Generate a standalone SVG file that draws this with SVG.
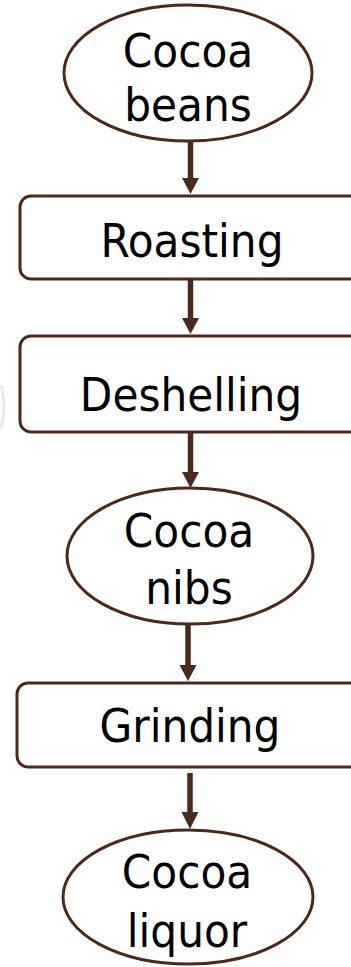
<svg xmlns="http://www.w3.org/2000/svg" width="351" height="967" viewBox="0 0 351 967">
<style>
.shape{fill:#ffffff;stroke:#4b2a1c;stroke-width:3}
.lbl{font-family:"DejaVu Sans Condensed","DejaVu Sans",sans-serif;font-stretch:condensed;font-size:47px;fill:#000000;text-anchor:middle}
.conn{stroke:#4b2a1c;stroke-width:5.5;fill:none}
.head{fill:#4b2a1c}
</style>
<rect width="351" height="967" fill="#ffffff"/>
<path d="M1,385 Q7,405 1,428" fill="none" stroke="#ece8e4" stroke-width="3"/>
<g id="cocoa-beans">
<ellipse class="shape" cx="188" cy="73" rx="124" ry="68"/>
<text class="lbl" x="188" y="67">Cocoa</text>
<text class="lbl" x="188" y="121">beans</text>
</g>
<g id="roasting">
<rect class="shape" x="20" y="196" width="360" height="83" rx="11"/>
<text class="lbl" x="192" y="257">Roasting</text>
</g>
<g id="deshelling">
<rect class="shape" x="20" y="336" width="360" height="96" rx="11"/>
<text class="lbl" x="191" y="411">Deshelling</text>
</g>
<g id="cocoa-nibs">
<ellipse class="shape" cx="190" cy="556" rx="123" ry="68"/>
<text class="lbl" x="189" y="547">Cocoa</text>
<text class="lbl" x="189" y="604">nibs</text>
</g>
<g id="grinding">
<rect class="shape" x="17" y="683" width="360" height="84" rx="11"/>
<text class="lbl" x="190" y="742">Grinding</text>
</g>
<g id="cocoa-liquor">
<ellipse class="shape" cx="188" cy="897" rx="125" ry="67"/>
<text class="lbl" x="187" y="888">Cocoa</text>
<text class="lbl" x="187" y="947">liquor</text>
</g>
<g id="connectors">
<line class="conn" x1="190.5" y1="142" x2="190.5" y2="180"/>
<polygon class="head" points="182,178 199,178 190.5,194"/>
<line class="conn" x1="190.5" y1="280" x2="190.5" y2="320"/>
<polygon class="head" points="182,318 199,318 190.5,334"/>
<line class="conn" x1="190.5" y1="433" x2="190.5" y2="474"/>
<polygon class="head" points="182,472 199,472 190.5,488"/>
<line class="conn" x1="188" y1="625" x2="188" y2="667"/>
<polygon class="head" points="179.5,665 196.5,665 188,681"/>
<line class="conn" x1="190" y1="773" x2="190" y2="814"/>
<polygon class="head" points="181.5,812 198.5,812 190,829"/>
</g>
</svg>
